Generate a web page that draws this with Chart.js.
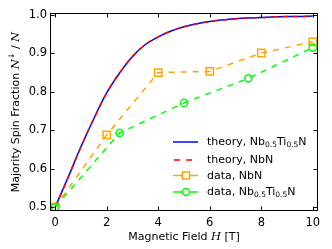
<!DOCTYPE html>
<html>
<head>
<meta charset="utf-8">
<script src="https://cdn.jsdelivr.net/npm/chart.js@4/dist/chart.umd.min.js"></script>
<style>
html,body{margin:0;padding:0;background:#fff;}
#wrap{width:332px;height:249px;position:relative;}
</style>
</head>
<body>
<div id="wrap"><canvas id="c" width="332" height="249"></canvas></div>
<script>
// ---- data ----
const theoryH      = [0,0.5,1,1.5,2,2.5,3,3.5,4,4.5,5,5.5,6,6.5,7,7.5,8,8.5,9,9.5,10];
const theoryNbTiN  = [0.500,0.577,0.657,0.730,0.797,0.849,0.892,0.923,0.943,0.958,0.969,0.977,0.983,0.987,0.990,0.992,0.993,0.995,0.996,0.996,0.997];
const theoryNbN    = [0.500,0.577,0.657,0.730,0.797,0.849,0.892,0.923,0.943,0.958,0.969,0.977,0.983,0.987,0.990,0.992,0.993,0.995,0.996,0.996,0.997];
const dataNbN_H    = [0,2,4,6,8,10];
const dataNbN      = [0.500,0.688,0.850,0.853,0.901,0.930];
const dataNbTiN_H  = [0,2.5,5,7.5,10];
const dataNbTiN    = [0.500,0.693,0.771,0.835,0.915];
const xTicks = [0,2,4,6,8,10];
const yTicks = [0.5,0.6,0.7,0.8,0.9,1.0];

const pts = (xs, ys) => xs.map((x,i)=>({x:x, y:ys[i]}));

const BLUE='#0000ff', RED='#ff0000', ORANGE='#ffa500', GREEN='#00ff00';
const SANS='"DejaVu Sans", sans-serif';
const SERIF='"DejaVu Serif", serif';

function runsWidth(ctx, runs){
  let w=0; for(const r of runs){ctx.font=r[1]; w+=ctx.measureText(r[0]).width;} return w;
}
function drawRuns(ctx, runs, x, y){
  for(const r of runs){ctx.font=r[1]; ctx.fillText(r[0], x, y+(r[2]||0)); x+=ctx.measureText(r[0]).width;}
}

const frameTicks = {
  id:'frameTicks',
  afterDatasetsDraw(chart){
    const ctx=chart.ctx, a=chart.chartArea, xs=chart.scales.x, ys=chart.scales.y;
    ctx.save();
    ctx.strokeStyle='#000'; ctx.lineWidth=1;
    const L=Math.round(a.left)+0.5, R=Math.round(a.right)-0.5, T=Math.round(a.top)+0.5, B=Math.round(a.bottom)-0.5;
    ctx.beginPath();
    const tl=4;
    for(const v of xTicks){
      const px=Math.round(xs.getPixelForValue(v))+0.5;
      ctx.moveTo(px,B); ctx.lineTo(px,B-tl);
      ctx.moveTo(px,T); ctx.lineTo(px,T+tl);
    }
    for(const v of yTicks){
      const py=Math.round(ys.getPixelForValue(v))+0.5;
      ctx.moveTo(L,py); ctx.lineTo(L+tl,py);
      ctx.moveTo(R,py); ctx.lineTo(R-tl,py);
    }
    ctx.stroke();
    ctx.strokeRect(L,T,R-L,B-T);
    ctx.restore();
  },
  afterDraw(chart){
    const ctx=chart.ctx, a=chart.chartArea;
    ctx.save();
    ctx.fillStyle='#000'; ctx.textBaseline='alphabetic';
    const xr=[['Magnetic Field ', '11px '+SANS],['H','italic 11.5px '+SERIF],[' [T]','11px '+SANS]];
    const xw=runsWidth(ctx,xr);
    drawRuns(ctx,xr,(a.left+a.right)/2 - xw/2, 239.5);
    const yr=[['Majority Spin Fraction ','11px '+SANS],['N','italic 11.5px '+SERIF],['\u2193','8px '+SANS,-5],[' / ','11px '+SANS],['N','italic 11.5px '+SERIF]];
    const yw=runsWidth(ctx,yr);
    ctx.translate(18.5,(a.top+a.bottom)/2);
    ctx.rotate(-Math.PI/2);
    drawRuns(ctx,yr,-yw/2,0);
    ctx.restore();

    ctx.save();
    const rows=[
      {c:BLUE, dash:[], m:null, t:[['theory, Nb','11px '+SANS],['0.5','7.5px '+SANS,3],['Ti','11px '+SANS],['0.5','7.5px '+SANS,3],['N','11px '+SANS]], y:142},
      {c:RED, dash:[6,6], m:null, t:[['theory, NbN','11px '+SANS]], y:160},
      {c:ORANGE, dash:[], m:'rect', t:[['data, NbN','11px '+SANS]], y:175.5},
      {c:GREEN, dash:[], m:'circle', t:[['data, Nb','11px '+SANS],['0.5','7.5px '+SANS,3],['Ti','11px '+SANS],['0.5','7.5px '+SANS,3],['N','11px '+SANS]], y:192}
    ];
    const x0=173, x1=198, tx=207;
    for(const r of rows){
      ctx.strokeStyle=r.c; ctx.lineWidth=1.5; ctx.setLineDash(r.dash);
      ctx.beginPath();
      if(r.dash.length){ ctx.moveTo(x0+1,r.y); ctx.lineTo(x1,r.y); }
      else { ctx.moveTo(x0,r.y); ctx.lineTo(x1,r.y); }
      ctx.stroke(); ctx.setLineDash([]);
      if(r.m==='rect'){ ctx.fillStyle='#fff'; ctx.fillRect(182.5,r.y-3.5,7,7); ctx.strokeRect(182.5,r.y-3.5,7,7); }
      if(r.m==='circle'){ ctx.fillStyle='#fff'; ctx.beginPath(); ctx.arc(186,r.y,3.5,0,Math.PI*2); ctx.fill(); ctx.stroke(); }
      ctx.fillStyle='#000'; ctx.textBaseline='middle';
      drawRuns(ctx,r.t,tx,r.y+0.5);
    }
    ctx.restore();
  }
};

new Chart(document.getElementById('c'),{
  type:'scatter',
  data:{datasets:[
    {label:'theory, Nb0.5Ti0.5N', data:pts(theoryH,theoryNbTiN), showLine:true, borderColor:BLUE, borderWidth:1.5, pointRadius:0, tension:0.4, order:3},
    {label:'theory, NbN', data:pts(theoryH,theoryNbN), showLine:true, borderColor:RED, borderWidth:1.5, borderDash:[5,5], pointRadius:0, tension:0.4, order:2},
    {label:'data, NbN', data:pts(dataNbN_H,dataNbN), showLine:true, borderColor:ORANGE, borderWidth:1.5, borderDash:[6,6], pointStyle:'rect', pointRadius:5.2, pointBorderWidth:1.5, pointBackgroundColor:'rgba(255,255,255,0)', pointBorderColor:ORANGE, order:1},
    {label:'data, Nb0.5Ti0.5N', data:pts(dataNbTiN_H,dataNbTiN), showLine:true, borderColor:GREEN, borderWidth:1.5, borderDash:[6,6], pointStyle:'circle', pointRadius:3.6, pointBorderWidth:1.5, pointBackgroundColor:'rgba(255,255,255,0)', pointBorderColor:GREEN, order:0}
  ]},
  options:{
    responsive:false, animation:false, devicePixelRatio:1,
    layout:{padding:{top:13,right:14,left:0,bottom:0}},
    plugins:{legend:{display:false}, tooltip:{enabled:false}},
    scales:{
      x:{type:'linear', min:-0.2, max:10.2,
        afterBuildTicks:s=>{s.ticks=xTicks.map(v=>({value:v}));},
        afterFit:s=>{s.height=38;},
        grid:{display:false, drawTicks:false}, border:{display:false},
        ticks:{padding:5, color:'#000', font:{family:SANS, size:11.5}, maxRotation:0, callback:v=>String(v)}},
      y:{type:'linear', min:0.49, max:1.005,
        afterBuildTicks:s=>{s.ticks=yTicks.map(v=>({value:v}));},
        afterFit:s=>{s.width=50;},
        grid:{display:false, drawTicks:false}, border:{display:false},
        ticks:{padding:3, color:'#000', font:{family:SANS, size:11.5}, callback:v=>v.toFixed(1)}}
    }
  },
  plugins:[frameTicks]
});
</script>
</body>
</html>
